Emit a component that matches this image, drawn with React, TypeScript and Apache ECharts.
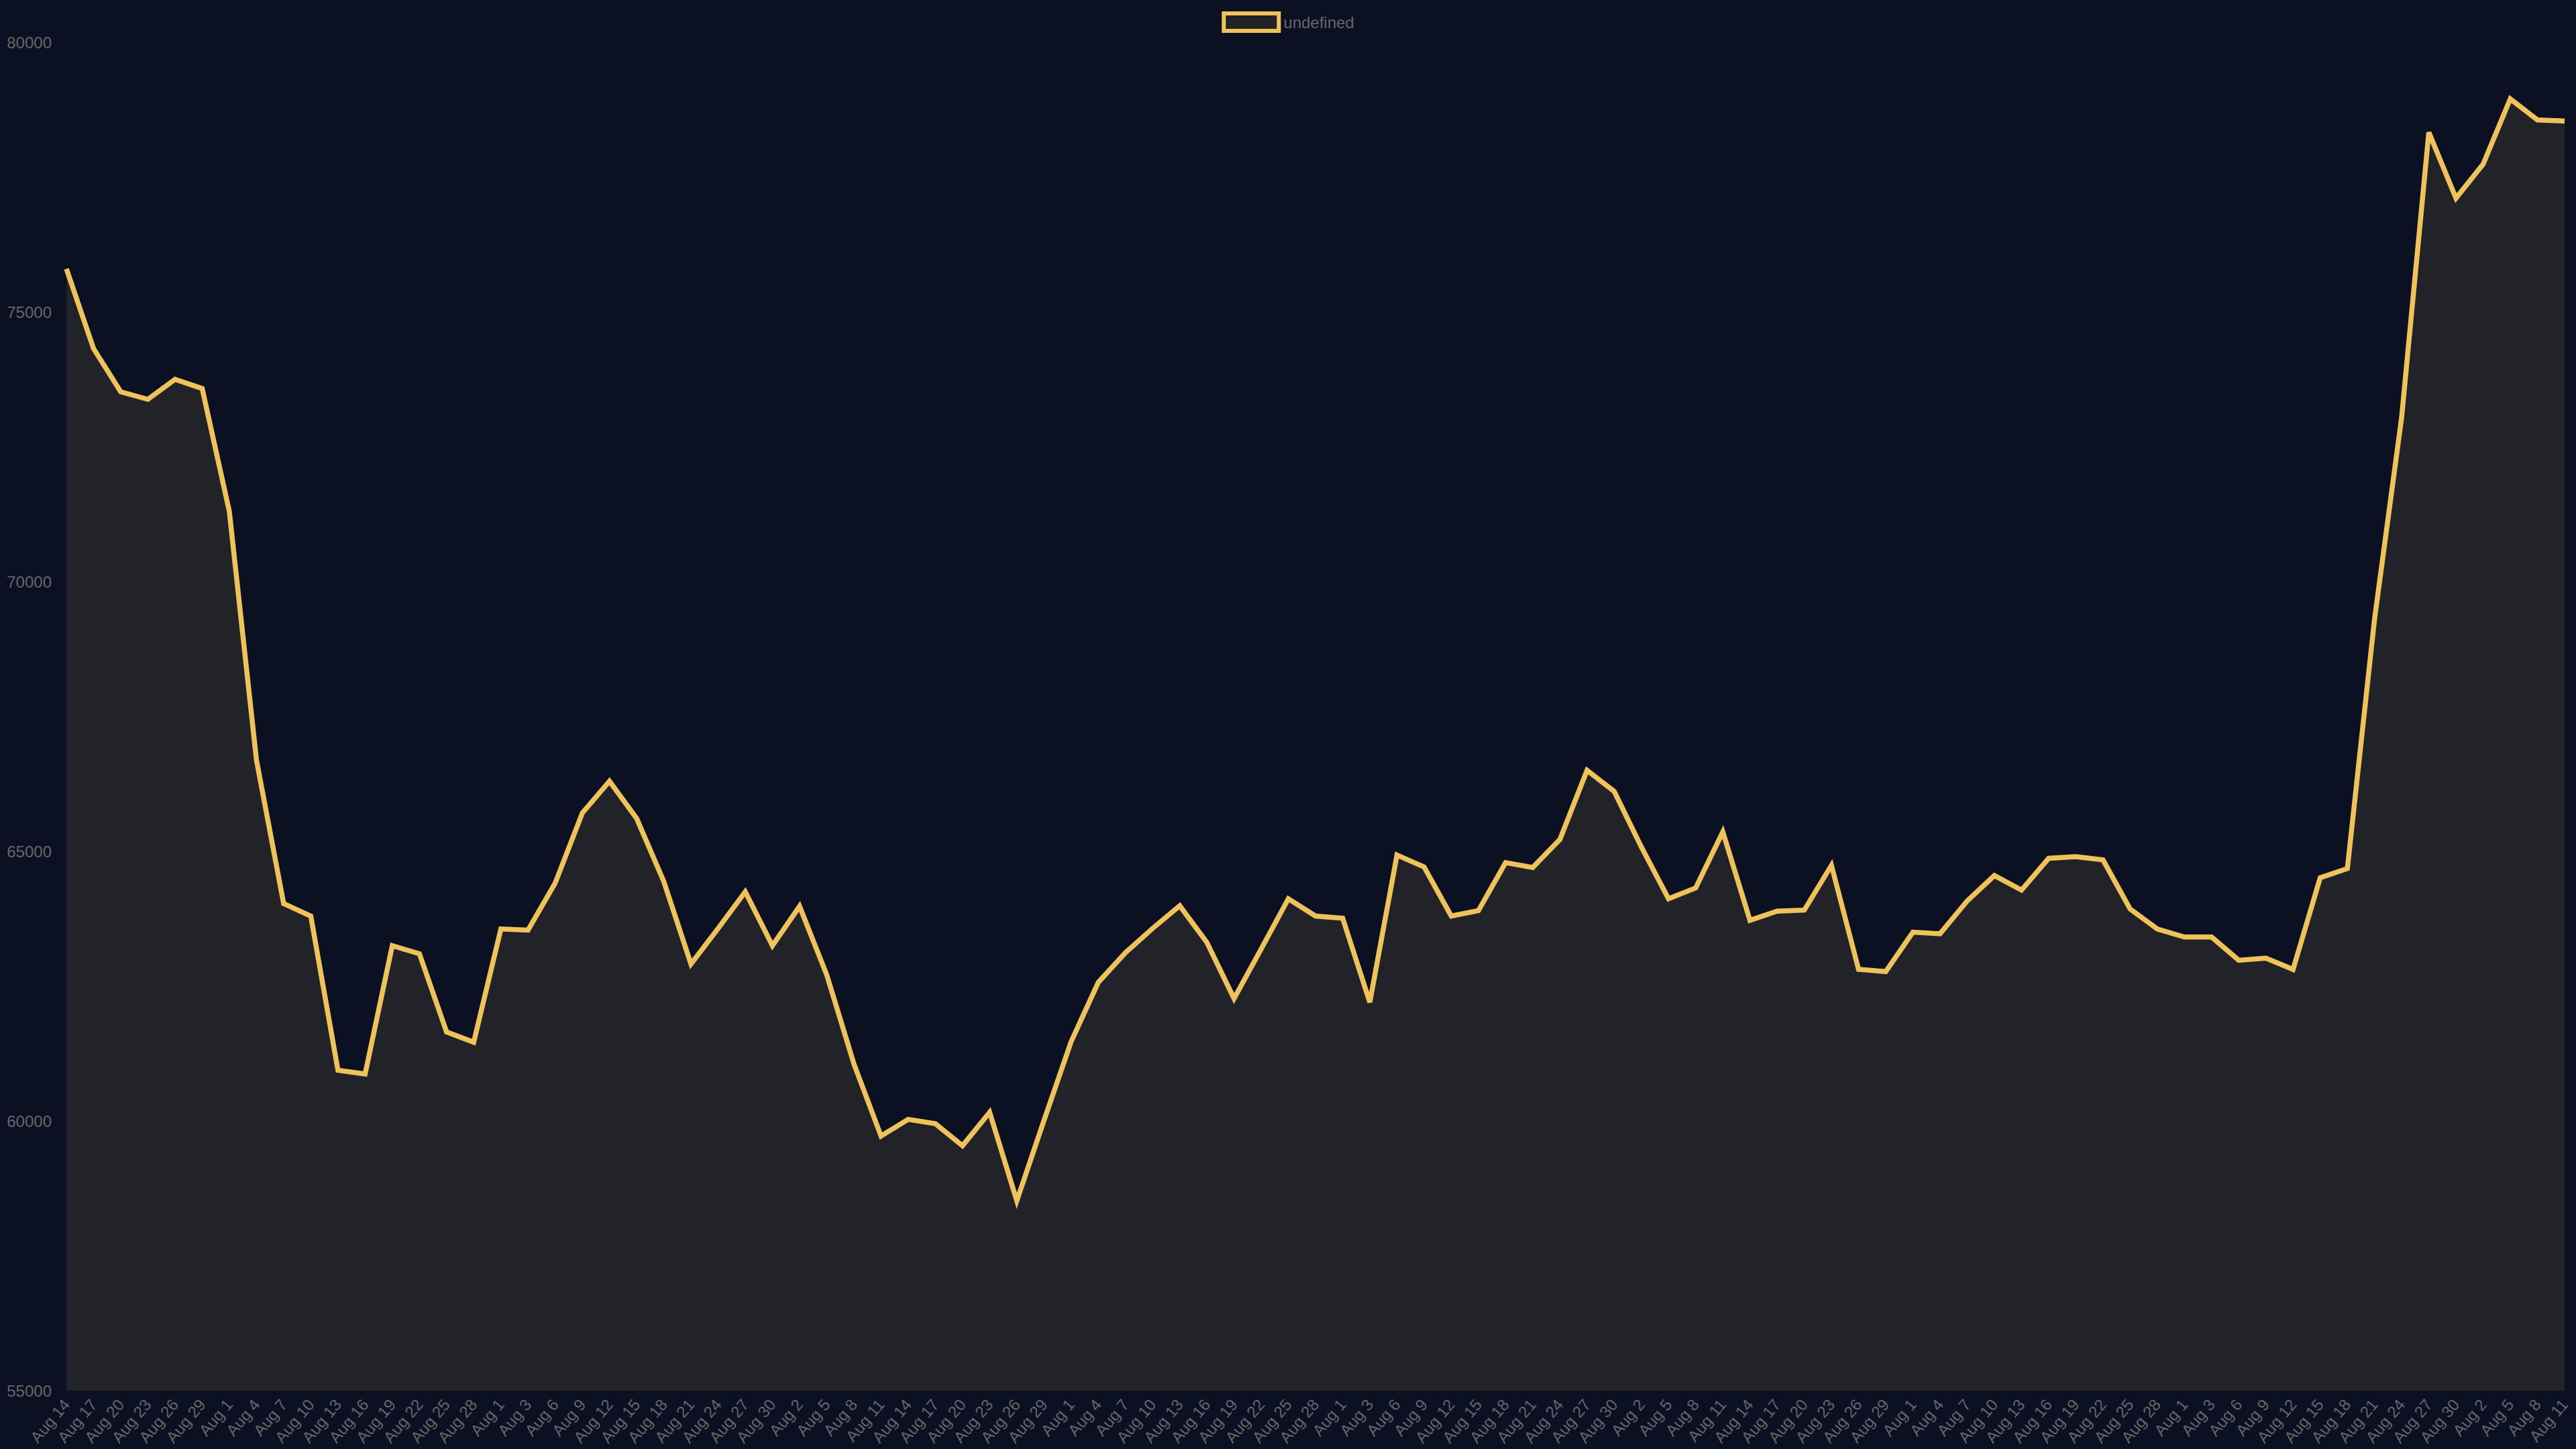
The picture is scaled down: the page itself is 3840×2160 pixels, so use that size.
import { useEffect, useRef } from 'react'
import * as echarts from 'echarts'

const dates = [
  'Aug 14', 'Aug 17', 'Aug 20', 'Aug 23', 'Aug 26', 'Aug 29',
  'Aug 1', 'Aug 4', 'Aug 7', 'Aug 10', 'Aug 13', 'Aug 16', 'Aug 19', 'Aug 22', 'Aug 25', 'Aug 28',
  'Aug 1', 'Aug 3', 'Aug 6', 'Aug 9', 'Aug 12', 'Aug 15', 'Aug 18', 'Aug 21', 'Aug 24', 'Aug 27', 'Aug 30',
  'Aug 2', 'Aug 5', 'Aug 8', 'Aug 11', 'Aug 14', 'Aug 17', 'Aug 20', 'Aug 23', 'Aug 26', 'Aug 29',
  'Aug 1', 'Aug 4', 'Aug 7', 'Aug 10', 'Aug 13', 'Aug 16', 'Aug 19', 'Aug 22', 'Aug 25', 'Aug 28',
  'Aug 1', 'Aug 3', 'Aug 6', 'Aug 9', 'Aug 12', 'Aug 15', 'Aug 18', 'Aug 21', 'Aug 24', 'Aug 27', 'Aug 30',
  'Aug 2', 'Aug 5', 'Aug 8', 'Aug 11', 'Aug 14', 'Aug 17', 'Aug 20', 'Aug 23', 'Aug 26', 'Aug 29',
  'Aug 1', 'Aug 4', 'Aug 7', 'Aug 10', 'Aug 13', 'Aug 16', 'Aug 19', 'Aug 22', 'Aug 25', 'Aug 28',
  'Aug 1', 'Aug 3', 'Aug 6', 'Aug 9', 'Aug 12', 'Aug 15', 'Aug 18', 'Aug 21', 'Aug 24', 'Aug 27', 'Aug 30',
  'Aug 2', 'Aug 5', 'Aug 8', 'Aug 11'
]

const prices = [
  75800, 74320, 73520, 73380, 73750, 73580, 71300, 66690, 64030, 63800,
  60940, 60870, 63250, 63100, 61650, 61460, 63560, 63540, 64410, 65710,
  66300, 65610, 64440, 62910, 63570, 64250, 63250, 63980, 62710, 61060,
  59720, 60030, 59950, 59540, 60160, 58520, 60010, 61470, 62570, 63120,
  63570, 63990, 63310, 62270, 63190, 64120, 63800, 63760, 62200, 64930,
  64710, 63800, 63900, 64790, 64700, 65220, 66500, 66110, 65080, 64120,
  64320, 65360, 63720, 63890, 63910, 64740, 62810, 62770, 63500, 63470,
  64080, 64550, 64280, 64870, 64900, 64840, 63930, 63560, 63410, 63410,
  62980, 63020, 62810, 64510, 64680, 69300, 73050, 78330, 77110, 77740,
  78950, 78560, 78540
]

const yTicks = { min: 55000, max: 80000, step: 5000 }

const seriesName = 'undefined'

export default function App() {
  const ref = useRef<HTMLDivElement | null>(null)

  useEffect(() => {
    if (!ref.current) return
    document.body.style.margin = '0'
    document.body.style.background = '#0b1123'

    const chart = echarts.init(ref.current, undefined, { renderer: 'svg' })
    chart.setOption({
      animation: false,
      backgroundColor: '#0b1123',
      textStyle: { fontFamily: 'Liberation Sans, Arial, sans-serif' },
      legend: {
        top: 12,
        left: 'center',
        icon: 'rect',
        itemWidth: 82,
        itemHeight: 26,
        itemGap: 20,
        textStyle: { color: '#666', fontSize: 24, padding: [0, 0, 0, 2] },
        data: [
          {
            name: seriesName,
            itemStyle: { color: '#212328', borderColor: '#f0c35a', borderWidth: 6 }
          }
        ]
      },
      grid: { left: 99, right: 17, top: 63, bottom: 87, containLabel: false },
      xAxis: {
        type: 'category',
        data: dates,
        boundaryGap: false,
        axisLine: { show: false },
        axisTick: { show: false },
        splitLine: { show: false },
        axisLabel: {
          color: '#666',
          fontSize: 24,
          interval: 0,
          rotate: 50,
          margin: 16
        }
      },
      yAxis: {
        type: 'value',
        min: yTicks.min,
        max: yTicks.max,
        interval: yTicks.step,
        axisLine: { show: false },
        axisTick: { show: false },
        splitLine: { show: false },
        axisLabel: {
          color: '#666',
          fontSize: 24,
          margin: 22,
          formatter: (v: number) => String(v)
        }
      },
      series: [
        {
          name: seriesName,
          type: 'line',
          data: prices,
          showSymbol: false,
          symbol: 'none',
          lineStyle: { color: '#f0c35a', width: 7.5, join: 'miter' },
          itemStyle: { color: '#212328', borderColor: '#f0c35a', borderWidth: 6 },
          areaStyle: { color: '#212328', opacity: 1, origin: 'start' }
        }
      ]
    })

    return () => {
      chart.dispose()
    }
  }, [])

  return (
    <div
      ref={ref}
      style={{ position: 'fixed', left: 0, top: 0, width: 3840, height: 2160 }}
    />
  )
}
